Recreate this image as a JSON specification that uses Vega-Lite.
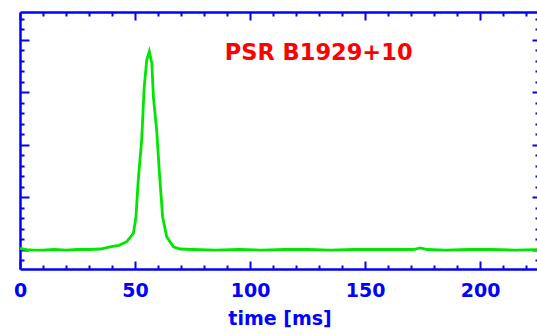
{
  "$schema": "https://vega.github.io/schema/vega-lite/v6.json",
  "width": 519,
  "height": 257,
  "autosize": "none",
  "padding": {"left": 20, "top": 12, "right": 0, "bottom": 66},
  "background": "white",
  "config": {
    "view": {"stroke": null},
    "axis": {
      "domainColor": "#0000ff",
      "domainWidth": 2.5,
      "tickColor": "#0000ff",
      "tickWidth": 2,
      "grid": false,
      "labelColor": "#0000ff",
      "labelFont": "DejaVu Sans",
      "labelFontWeight": "bold",
      "labelFontSize": 19,
      "titleColor": "#0000ff",
      "titleFont": "DejaVu Sans",
      "titleFontWeight": "bold",
      "titleFontSize": 19
    }
  },
  "data": {
    "values": [
      {"t": 0, "v": 0.02}, {"t": 3, "v": 0.0}, {"t": 6, "v": -0.01}, {"t": 10, "v": -0.01},
      {"t": 15, "v": 0.0}, {"t": 20, "v": -0.01}, {"t": 25, "v": 0.0}, {"t": 30, "v": 0.0},
      {"t": 35, "v": 0.01}, {"t": 39.1, "v": 0.05}, {"t": 43, "v": 0.08}, {"t": 46.4, "v": 0.15},
      {"t": 49.3, "v": 0.31}, {"t": 50.4, "v": 0.62}, {"t": 51.4, "v": 1.32}, {"t": 52.9, "v": 2.09},
      {"t": 54.0, "v": 3.1}, {"t": 55.1, "v": 3.61}, {"t": 56.2, "v": 3.77}, {"t": 57.3, "v": 3.55},
      {"t": 58.0, "v": 2.9}, {"t": 59.4, "v": 2.28}, {"t": 60.6, "v": 1.46}, {"t": 62.0, "v": 0.62},
      {"t": 63.8, "v": 0.24}, {"t": 66.7, "v": 0.05}, {"t": 69.6, "v": 0.01}, {"t": 75, "v": 0.0},
      {"t": 85, "v": -0.01}, {"t": 95, "v": 0.0}, {"t": 105, "v": -0.01}, {"t": 115, "v": 0.0},
      {"t": 125, "v": 0.0}, {"t": 135, "v": -0.01}, {"t": 145, "v": 0.0}, {"t": 155, "v": 0.0},
      {"t": 165, "v": 0.0}, {"t": 171, "v": 0.0}, {"t": 174, "v": 0.03}, {"t": 177, "v": 0.0},
      {"t": 185, "v": -0.01}, {"t": 195, "v": 0.0}, {"t": 205, "v": 0.0}, {"t": 215, "v": -0.01},
      {"t": 225.6, "v": 0.0}
    ]
  },
  "layer": [
    {
      "mark": {"type": "line", "color": "#00e600", "strokeWidth": 2.8, "clip": true},
      "encoding": {
        "x": {
          "field": "t", "type": "quantitative",
          "scale": {"domain": [0, 225.6], "nice": false, "zero": false},
          "axis": {
            "orient": "bottom",
            "values": [0, 10, 20, 30, 40, 50, 60, 70, 80, 90, 100, 110, 120, 130, 140, 150, 160, 170, 180, 190, 200, 210, 220],
            "labelExpr": "datum.value % 50 === 0 ? datum.label : ''",
            "tickSize": {"condition": {"test": "datum.value % 50 === 0", "value": -8}, "value": -4},
            "labelPadding": 20,
            "labelFlush": false,
            "title": "time [ms]",
            "titlePadding": 9
          }
        },
        "y": {
          "field": "v", "type": "quantitative",
          "scale": {"domain": [-0.371, 4.524], "nice": false, "zero": false},
          "axis": {
            "orient": "left",
            "values": [-0.2, 0, 0.2, 0.4, 0.6, 0.8, 1, 1.2, 1.4, 1.6, 1.8, 2, 2.2, 2.4, 2.6, 2.8, 3, 3.2, 3.4, 3.6, 3.8, 4, 4.2, 4.4],
            "labels": false,
            "title": null,
            "tickSize": {"condition": {"test": "abs(datum.value - round(datum.value)) < 0.01", "value": -9}, "value": -4}
          }
        }
      }
    },
    {
      "data": {"values": [{"label": "PSR B1929+10"}]},
      "mark": {"type": "text", "align": "left", "baseline": "middle", "color": "#ff0000", "font": "DejaVu Sans", "fontSize": 22.5, "fontWeight": "bold"},
      "encoding": {
        "x": {
          "datum": 89, "type": "quantitative",
          "axis": {
            "orient": "top",
            "values": [0, 10, 20, 30, 40, 50, 60, 70, 80, 90, 100, 110, 120, 130, 140, 150, 160, 170, 180, 190, 200, 210, 220],
            "labels": false,
            "title": null,
            "tickSize": {"condition": {"test": "datum.value % 50 === 0", "value": -8}, "value": -4}
          }
        },
        "y": {
          "datum": 3.74, "type": "quantitative",
          "axis": {
            "orient": "right",
            "values": [-0.2, 0, 0.2, 0.4, 0.6, 0.8, 1, 1.2, 1.4, 1.6, 1.8, 2, 2.2, 2.4, 2.6, 2.8, 3, 3.2, 3.4, 3.6, 3.8, 4, 4.2, 4.4],
            "labels": false,
            "title": null,
            "tickSize": {"condition": {"test": "abs(datum.value - round(datum.value)) < 0.01", "value": -7}, "value": -4}
          }
        },
        "text": {"field": "label"}
      }
    }
  ],
  "resolve": {"axis": {"x": "independent", "y": "independent"}}
}
